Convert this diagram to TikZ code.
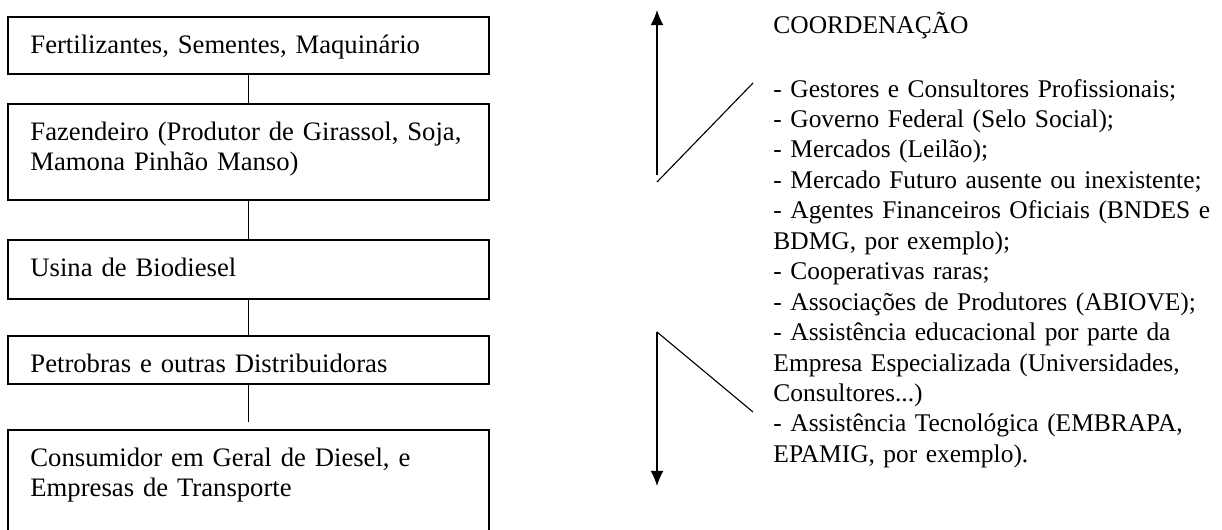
\documentclass[tikz,border=0pt]{standalone}
\usepackage{fontspec}
\setmainfont{Liberation Serif}
\usetikzlibrary{arrows.meta}

\begin{document}
\begin{tikzpicture}[x = 0.45pt, y = -0.45pt, > = {Latex[length = 6.8pt, width = 5.8pt]},
	stage/.style = {draw, line width = 0.75pt, anchor = north west, inner sep = 0pt, outer sep = 0pt, minimum width = 216.45pt},
	stagetext/.style = {anchor = base west, inner sep = 0pt, text width = 200pt, align = left, font = \fontsize{12}{13.5}\selectfont},
	listtext/.style = {anchor = base west, inner sep = 0pt, text width = 200pt, align = left, font = \fontsize{11.45}{13.7}\selectfont},
	link/.style = {line width = 0.75pt},
	bar/.style = {line width = 0.6pt},
	slant/.style = {line width = 0.5pt}]

	% Definitions

	\def\tx{22} 	% Indent of the text inside a box
	\def\ty{36} 	% First baseline below the top of a box

	% Frame of the picture

	\useasboundingbox (0, 0) rectangle (1222, 529);
	\clip (0, 0) rectangle (1222, 529);

	% Chain of boxes

	\node [stage, minimum height = 25.65pt] (insumos) at (8, 17) {};
	\node [stage, minimum height = 43.2pt] (fazenda) at (8, 104) {};
	\node [stage, minimum height = 26.55pt] (usina) at (8, 240) {};
	\node [stage, minimum height = 21.6pt] (distrib) at (8, 336) {};
	\node [stage, minimum height = 54pt] (consumo) at (8, 430) {};

	\node [stagetext] (insumostxt) at ([shift = {(\tx, \ty)}] insumos.north west) {Fertilizantes, Sementes, Maquinário};
	\node [stagetext] (fazendatxt) at ([shift = {(\tx, \ty)}] fazenda.north west) {Fazendeiro (Produtor de Girassol, Soja,\\ Mamona Pinhão Manso)};
	\node [stagetext] (usinatxt) at ([shift = {(\tx, \ty)}] usina.north west) {Usina de Biodiesel};
	\node [stagetext] (distribtxt) at ([shift = {(\tx, \ty)}] distrib.north west) {Petrobras e outras Distribuidoras};
	\node [stagetext] (consumotxt) at ([shift = {(\tx, \ty)}] consumo.north west) {Consumidor em Geral de Diesel, e\\ Empresas de Transporte};

	% Links between the boxes

	\draw [link] (insumos.south) -- (fazenda.north);
	\draw [link] (fazenda.south) -- (usina.north);
	\draw [link] (usina.south) -- (distrib.north);
	\draw [link] (distrib.south) -- ([yshift = 3.6pt] consumo.north);

	% Arrows and slanted strokes

	\coordinate (uptip) at (657, 10);
	\coordinate (upfoot) at (657, 175);
	\coordinate (upleft) at (657, 182);
	\coordinate (upright) at (753, 83);
	\coordinate (downtop) at (657, 332);
	\coordinate (downtip) at (657, 486);
	\coordinate (downright) at (753, 412);

	\draw [bar, ->] (upfoot) -- (uptip);
	\draw [slant] (upleft) -- (upright);
	\draw [bar, ->] (downtop) -- (downtip);
	\draw [slant] (downtop) -- (downright);

	% Coordination list

	\node [listtext] (coord) at (773, 33) {COORDENAÇÃO\\[15.1pt]
		- Gestores e Consultores Profissionais;\\
		- Governo Federal (Selo Social);\\
		- Mercados (Leilão);\\
		- Mercado Futuro ausente ou inexistente;\\
		- Agentes Financeiros Oficiais (BNDES e\\
		BDMG, por exemplo);\\
		- Cooperativas raras;\\
		- Associações de Produtores (ABIOVE);\\
		- Assistência educacional por parte da\\
		Empresa Especializada (Universidades,\\
		Consultores...)\\
		- Assistência Tecnológica (EMBRAPA,\\
		EPAMIG, por exemplo).};

\end{tikzpicture}
\end{document}
